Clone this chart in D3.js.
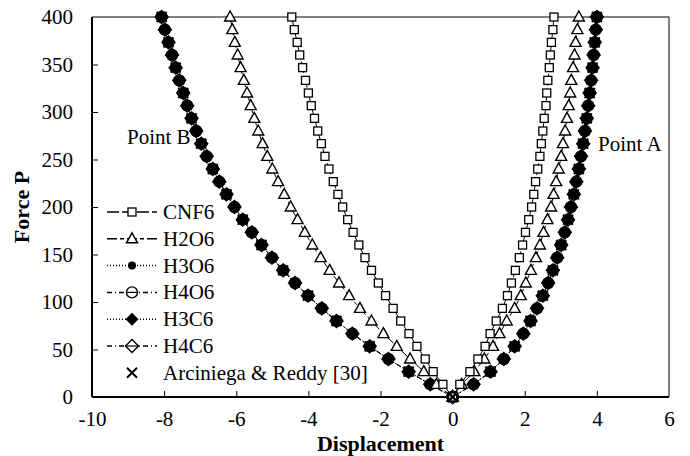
<!DOCTYPE html>
<html>
<head>
<meta charset="utf-8">
<script src="https://cdn.jsdelivr.net/npm/d3@7"></script>
<style>
  body { margin: 0; background: #fff; }
</style>
</head>
<body>
<div id="chart"></div>
<script>
const W = 690, H = 456
const MARGIN = {TOP: 17, RIGHT: 21, BOTTOM: 59, LEFT: 92}
const WIDTH = W - MARGIN.LEFT - MARGIN.RIGHT
const HEIGHT = H - MARGIN.TOP - MARGIN.BOTTOM
const FONT = "'Liberation Serif', 'Times New Roman', Times, serif"

// force levels (same for every series)
const force = [0, 13.3, 26.7, 40, 53.3, 66.7, 80, 93.3, 106.7, 120, 133.3, 146.7, 160, 173.3, 186.7, 200,
  213.3, 226.7, 240, 253.3, 266.7, 280, 293.3, 306.7, 320, 333.3, 346.7, 360, 373.3, 386.7, 400]

const CNF6_left = [0, -0.27, -0.54, -0.76, -0.99, -1.21, -1.44, -1.65, -1.86, -2.06, -2.25, -2.43, -2.6, -2.76, -2.91, -3.05,
  -3.18, -3.31, -3.43, -3.54, -3.64, -3.74, -3.83, -3.92, -4.0, -4.08, -4.16, -4.24, -4.31, -4.39, -4.46]
const CNF6_right = [0, 0.2, 0.48, 0.7, 0.9, 1.04, 1.21, 1.38, 1.52, 1.63, 1.74, 1.85, 1.94, 2.02, 2.11, 2.19,
  2.25, 2.3, 2.36, 2.42, 2.46, 2.5, 2.54, 2.59, 2.61, 2.64, 2.68, 2.71, 2.74, 2.78, 2.81]

const H2O6_left = [0, -0.45, -0.8, -1.18, -1.55, -1.92, -2.25, -2.57, -2.87, -3.15, -3.41, -3.66, -3.89, -4.1, -4.3, -4.49,
  -4.67, -4.84, -5.0, -5.14, -5.27, -5.39, -5.5, -5.6, -5.7, -5.79, -5.88, -5.96, -6.04, -6.11, -6.17]
const H2O6_right = [0, 0.25, 0.6, 0.88, 1.12, 1.3, 1.5, 1.72, 1.89, 2.03, 2.17, 2.31, 2.42, 2.52, 2.63, 2.73,
  2.8, 2.87, 2.94, 3.01, 3.06, 3.12, 3.17, 3.22, 3.26, 3.29, 3.34, 3.38, 3.41, 3.46, 3.5]

// the H3/H4 curves lie on top of each other
const H3O6_left = [0, -0.62, -1.22, -1.78, -2.3, -2.78, -3.22, -3.63, -4.01, -4.37, -4.7, -5.01, -5.3, -5.57, -5.82, -6.05,
  -6.27, -6.47, -6.65, -6.82, -6.97, -7.11, -7.24, -7.36, -7.47, -7.58, -7.68, -7.78, -7.88, -7.98, -8.07]
const H3O6_right = [0, 0.58, 1.05, 1.42, 1.72, 1.96, 2.16, 2.34, 2.5, 2.65, 2.78, 2.9, 3.01, 3.11, 3.2, 3.28,
  3.36, 3.43, 3.5, 3.56, 3.62, 3.67, 3.72, 3.76, 3.8, 3.84, 3.88, 3.91, 3.94, 3.97, 4.0]
const H4O6_left = H3O6_left, H4O6_right = H3O6_right
const H3C6_left = H3O6_left, H3C6_right = H3O6_right
const H4C6_left = H3O6_left, H4C6_right = H3O6_right

const ref_force = [0, 26.7, 53.3, 80, 106.7, 133.3, 160, 186.7, 213.3, 240, 266.7, 293.3, 320, 346.7, 373.3, 400]
const ref_left = [0, -1.22, -2.3, -3.22, -4.01, -4.7, -5.3, -5.82, -6.27, -6.65, -6.97, -7.24, -7.47, -7.68, -7.88, -8.07]
const ref_right = [0, 1.05, 1.72, 2.16, 2.5, 2.78, 3.01, 3.2, 3.36, 3.5, 3.62, 3.72, 3.8, 3.88, 3.94, 4.0]

const xTicks = [-10, -8, -6, -4, -2, 0, 2, 4, 6]
const yTicks = [0, 50, 100, 150, 200, 250, 300, 350, 400]

const series = [
  {name: "CNF6", left: CNF6_left, right: CNF6_right, marker: "square", dash: "12,3"},
  {name: "H2O6", left: H2O6_left, right: H2O6_right, marker: "triangle", dash: "10,3,4,3"},
  {name: "H3O6", left: H3O6_left, right: H3O6_right, marker: "dot", dash: "1,2"},
  {name: "H4O6", left: H4O6_left, right: H4O6_right, marker: "circle", dash: "5,3,1,3"},
  {name: "H3C6", left: H3C6_left, right: H3C6_right, marker: "diamondFill", dash: "1,2"},
  {name: "H4C6", left: H4C6_left, right: H4C6_right, marker: "diamond", dash: "5,3,1,3"}
]

const svg = d3.select("#chart").append("svg")
  .attr("width", W)
  .attr("height", H)

const g = svg.append("g")
  .attr("transform", `translate(${MARGIN.LEFT}, ${MARGIN.TOP})`)

const x = d3.scaleLinear().domain([-10, 6]).range([0, WIDTH])
const y = d3.scaleLinear().domain([0, 400]).range([HEIGHT, 0])

// frame (top + right are thin)
g.append("line").attr("x1", 0).attr("x2", WIDTH).attr("y1", 0).attr("y2", 0)
  .attr("stroke", "#000").attr("stroke-width", 1)
g.append("line").attr("x1", WIDTH).attr("x2", WIDTH).attr("y1", 0).attr("y2", HEIGHT)
  .attr("stroke", "#000").attr("stroke-width", 1)

const xAxis = g.append("g")
  .attr("transform", `translate(0, ${HEIGHT})`)
  .call(d3.axisBottom(x).tickValues(xTicks).tickSize(-6).tickPadding(14).tickFormat(d => String(d)))
const yAxis = g.append("g")
  .call(d3.axisLeft(y).tickValues(yTicks).tickSize(-6).tickPadding(19).tickFormat(d => String(d)))

for (const ax of [xAxis, yAxis]) {
  ax.attr("font-family", null).attr("font-size", null)
  ax.select(".domain").attr("stroke-width", 2).attr("stroke", "#000")
  ax.selectAll(".tick line").attr("stroke", "#000").attr("stroke-width", 1)
  ax.selectAll(".tick text")
    .style("font-family", FONT)
    .style("font-size", "21px")
    .attr("fill", "#000")
}
xAxis.select(".domain").attr("d", `M0,0H${WIDTH}`)
yAxis.select(".domain").attr("d", `M0,0V${HEIGHT}`)
xAxis.selectAll(".tick").filter(d => d === -10 || d === 6).select("line").remove()
yAxis.selectAll(".tick").filter(d => d === 0 || d === 400).select("line").remove()

// axis titles
g.append("text")
  .attr("x", WIDTH / 2)
  .attr("y", HEIGHT + 54)
  .style("font-family", FONT)
  .style("font-size", "22px")
  .style("font-weight", "bold")
  .attr("text-anchor", "middle")
  .text("Displacement")

g.append("text")
  .attr("x", -HEIGHT / 2)
  .attr("y", -63)
  .style("font-family", FONT)
  .style("font-size", "22px")
  .style("font-weight", "bold")
  .attr("text-anchor", "middle")
  .attr("transform", "rotate(-90)")
  .text("Force P")

function drawMarker(sel, type) {
  if (type === "square") {
    sel.append("rect").attr("x", -4).attr("y", -4).attr("width", 8).attr("height", 8)
      .attr("fill", "#fff").attr("stroke", "#000").attr("stroke-width", 1.3)
  } else if (type === "triangle") {
    sel.append("path").attr("d", "M0,-6L5.5,4L-5.5,4Z")
      .attr("fill", "#fff").attr("stroke", "#000").attr("stroke-width", 1.4)
  } else if (type === "dot") {
    sel.append("circle").attr("r", 4).attr("fill", "#000")
  } else if (type === "circle") {
    sel.append("circle").attr("r", 5.5).attr("fill", "#fff").attr("stroke", "#000").attr("stroke-width", 1.4)
    sel.append("line").attr("x1", -5.5).attr("x2", 5.5).attr("stroke", "#000").attr("stroke-width", 1.2)
  } else if (type === "diamondFill") {
    sel.append("path").attr("d", "M0,-6.5L6.5,0L0,6.5L-6.5,0Z").attr("fill", "#000")
  } else if (type === "diamond") {
    sel.append("path").attr("d", "M0,-6.5L6.5,0L0,6.5L-6.5,0Z")
      .attr("fill", "#fff").attr("stroke", "#000").attr("stroke-width", 1.4)
    sel.append("line").attr("x1", -6.5).attr("x2", 6.5).attr("stroke", "#000").attr("stroke-width", 1.2)
  } else if (type === "cross") {
    sel.append("path").attr("d", "M-5,-5L5,5M-5,5L5,-5")
      .attr("stroke", "#000").attr("stroke-width", 2).attr("fill", "none")
  }
}

const line = d3.line().x(d => x(d[0])).y(d => y(d[1]))

// draw the big black curves first, then the open ones on top
const drawOrder = [series[3], series[5], series[2], series[4], series[1], series[0]]
for (const s of drawOrder) {
  for (const branch of [s.left, s.right]) {
    const pts = branch.map((d, i) => [d, force[i]])
    g.append("path").attr("d", line(pts))
      .attr("fill", "none").attr("stroke", "#000").attr("stroke-width", 1)
      .attr("stroke-dasharray", s.dash)
    const m = g.append("g").selectAll("g")
      .data(pts).enter().append("g")
      .attr("transform", d => `translate(${x(d[0])}, ${y(d[1])})`)
    m.each(function () { drawMarker(d3.select(this), s.marker) })
  }
}

// reference points
for (const branch of [ref_left, ref_right]) {
  g.append("g").selectAll("g")
    .data(branch.map((d, i) => [d, ref_force[i]])).enter().append("g")
    .attr("transform", d => `translate(${x(d[0])}, ${y(d[1])})`)
    .each(function () { drawMarker(d3.select(this), "cross") })
}

// annotations
g.append("text").attr("x", 35).attr("y", 127).style("font-family", FONT).style("font-size", "21px").text("Point B")
g.append("text").attr("x", 506).attr("y", 134).style("font-family", FONT).style("font-size", "21px").text("Point A")

// legend
const legend = g.append("g").attr("transform", `translate(${107 - MARGIN.LEFT}, ${212 - MARGIN.TOP})`)
const legItems = series.map(s => ({name: s.name, marker: s.marker, dash: s.dash}))
  .concat([{name: "Arciniega & Reddy [30]", marker: "cross", dash: null}])
legItems.forEach((it, i) => {
  const row = legend.append("g").attr("transform", `translate(0, ${i * 26.8})`)
  if (it.dash) {
    row.append("line").attr("x1", 0).attr("x2", 50)
      .attr("stroke", "#000").attr("stroke-width", 1.5).attr("stroke-dasharray", it.dash)
  }
  drawMarker(row.append("g").attr("transform", "translate(25, 0)"), it.marker)
  row.append("text").attr("x", 56).attr("y", 7).style("font-family", FONT).style("font-size", "21px").text(it.name)
})
</script>
</body>
</html>
